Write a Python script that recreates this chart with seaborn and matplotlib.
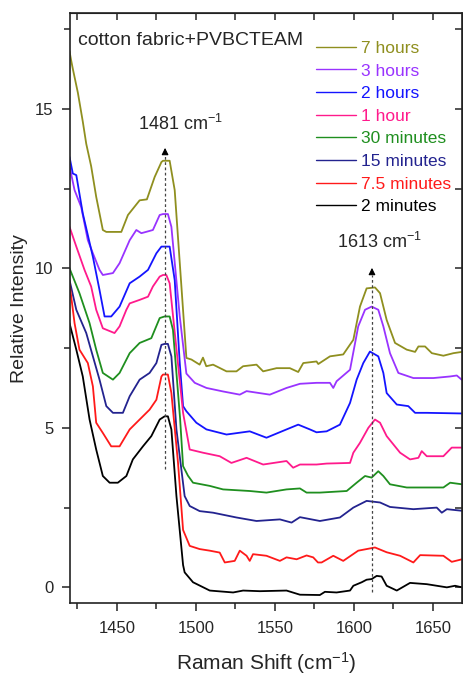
import numpy as np
import pandas as pd
import seaborn as sns
import matplotlib
matplotlib.use("Agg")
import matplotlib.pyplot as plt
from matplotlib.ticker import MultipleLocator

# Series labels, legend order (top to bottom)
labels = ["7 hours", "3 hours", "2 hours", "1 hour",
          "30 minutes", "15 minutes", "7.5 minutes", "2 minutes"]
colors = ["#8f8f1f", "#9933ff", "#1414ff", "#ff1a8c",
          "#1f8f1f", "#23238f", "#ff1a1a", "#000000"]

# Raman shift (cm-1) / relative intensity
x_7h = [1420.0, 1421.1, 1422.1, 1425.3, 1428.4, 1430.6, 1433.7, 1436.9, 1441.1, 1443.3,
        1452.8, 1457.0, 1464.4, 1469.0, 1473.9, 1478.2, 1479.2, 1483.4, 1486.6, 1494.0,
        1497.2, 1502.4, 1504.5, 1506.6, 1510.9, 1519.4, 1525.7, 1529.9, 1538.4, 1542.6,
        1551.1, 1559.5, 1564.8, 1568.0, 1576.4, 1577.5, 1584.9, 1593.3, 1599.7, 1603.9,
        1608.1, 1613.4, 1616.6, 1620.8, 1626.1, 1633.5, 1638.8, 1640.9, 1645.1, 1649.4,
        1656.7, 1663.1, 1668.5]
y_7h = [16.8, 16.5, 16.25, 15.5, 14.6, 13.9, 13.2, 12.24, 11.2, 11.14,
        11.14, 11.67, 12.13, 12.16, 12.86, 13.33, 13.37, 13.37, 12.45, 7.19,
        7.14, 6.98, 7.2, 6.93, 6.98, 6.77, 6.77, 6.93, 6.98, 6.77,
        6.87, 6.87, 6.75, 7.03, 7.08, 7.0, 7.24, 7.3, 7.76, 8.8,
        9.37, 9.4, 9.22, 8.38, 7.66, 7.45, 7.38, 7.55, 7.55, 7.34,
        7.26, 7.34, 7.38]

x_3h = [1420.0, 1423.2, 1427.4, 1431.6, 1434.8, 1439.0, 1441.1, 1447.5, 1451.7, 1458.1,
        1462.3, 1465.5, 1472.8, 1477.1, 1479.2, 1482.3, 1484.5, 1489.8, 1494.0, 1499.3,
        1506.7, 1517.2, 1527.8, 1532.1, 1546.8, 1557.4, 1565.9, 1576.4, 1584.9, 1587.0,
        1589.1, 1597.6, 1602.8, 1607.1, 1611.3, 1615.5, 1618.7, 1622.9, 1628.2, 1637.7,
        1650.4, 1661.0, 1665.2, 1668.5]
y_3h = [13.2, 12.45, 11.92, 10.88, 10.47, 9.95, 9.79, 9.85, 10.16, 10.88,
        11.2, 11.1, 11.2, 11.67, 11.7, 11.7, 11.3, 8.49, 6.7, 6.41,
        6.25, 6.14, 6.04, 6.15, 6.04, 6.25, 6.38, 6.41, 6.41, 6.25,
        6.46, 6.82, 8.18, 8.7, 8.8, 8.7, 8.18, 7.34, 6.72, 6.56,
        6.56, 6.61, 6.64, 6.5]

x_2h = [1420.0, 1422.1, 1424.3, 1428.4, 1434.8, 1439.0, 1442.2, 1446.4, 1451.7, 1458.1,
        1464.4, 1469.7, 1475.0, 1478.2, 1483.4, 1486.6, 1489.8, 1491.9, 1494.0, 1500.3,
        1506.7, 1519.4, 1534.1, 1544.7, 1557.4, 1564.8, 1572.2, 1576.4, 1582.8, 1591.2,
        1597.6, 1601.8, 1606.0, 1610.2, 1615.5, 1618.7, 1620.8, 1627.2, 1634.5, 1638.8,
        1646.2, 1668.5]
y_2h = [13.49, 12.97, 12.92, 11.72, 10.36, 9.32, 8.49, 8.49, 8.8, 9.53,
        9.74, 9.95, 10.47, 10.68, 10.68, 9.63, 7.03, 5.68, 5.52, 5.16,
        4.95, 4.79, 4.89, 4.69, 4.95, 5.1, 4.95, 4.86, 4.89, 5.1,
        5.78, 6.51, 7.03, 7.39, 7.24, 6.72, 6.09, 5.73, 5.68, 5.47,
        5.47, 5.45]

x_1h = [1420.0, 1424.3, 1429.5, 1433.7, 1436.9, 1441.1, 1448.5, 1451.7, 1456.0, 1458.1,
        1464.4, 1469.7, 1472.8, 1477.1, 1479.2, 1481.3, 1483.4, 1491.9, 1496.1, 1504.5,
        1515.1, 1522.5, 1532.1, 1542.6, 1557.4, 1561.6, 1565.9, 1576.4, 1582.8, 1597.6,
        1599.7, 1603.9, 1609.2, 1613.4, 1616.6, 1620.8, 1629.3, 1635.6, 1640.9, 1643.0,
        1646.2, 1656.7, 1662.0, 1668.5]
y_1h = [11.3, 10.68, 9.95, 9.43, 8.7, 8.12, 7.97, 8.18, 8.7, 8.9,
        9.01, 9.11, 9.43, 9.74, 9.79, 9.79, 9.53, 5.47, 4.32, 4.22,
        4.11, 3.9, 4.06, 3.85, 3.96, 3.75, 3.85, 3.85, 3.88, 3.9,
        4.22, 4.53, 5.0, 5.26, 5.16, 4.74, 4.22, 4.01, 4.06, 4.27,
        4.11, 4.11, 4.38, 4.38]

x_30m = [1420.0, 1426.3, 1432.7, 1436.9, 1441.1, 1447.5, 1451.7, 1458.1, 1464.4, 1471.8,
         1477.1, 1480.2, 1483.4, 1485.5, 1490.0, 1491.9, 1495.0, 1498.2, 1508.8, 1517.2,
         1534.1, 1544.7, 1557.4, 1565.9, 1570.1, 1578.5, 1595.5, 1601.8, 1607.1, 1611.3,
         1615.5, 1618.7, 1622.9, 1633.5, 1656.7, 1661.0, 1668.5]
y_30m = [10.0, 9.22, 8.28, 7.45, 6.72, 6.51, 6.72, 7.34, 7.66, 7.81,
         8.44, 8.49, 8.49, 8.07, 5.3, 3.8, 3.5, 3.28, 3.18, 3.07,
         3.02, 2.97, 3.07, 3.1, 2.97, 2.97, 3.02, 3.28, 3.49, 3.44,
         3.64, 3.49, 3.23, 3.13, 3.13, 3.28, 3.23]

x_15m = [1420.0, 1424.3, 1430.6, 1434.8, 1439.0, 1443.3, 1447.5, 1453.8, 1458.1, 1464.4,
         1470.7, 1475.0, 1478.2, 1480.2, 1482.3, 1484.5, 1487.7, 1492.9, 1496.1, 1502.4,
         1510.9, 1525.7, 1538.4, 1553.2, 1560.6, 1565.9, 1578.5, 1591.2, 1599.7, 1608.1,
         1616.6, 1622.9, 1637.7, 1652.5, 1655.7, 1658.9, 1668.5]
y_15m = [9.63, 8.7, 7.97, 7.24, 6.51, 5.68, 5.47, 5.47, 5.99, 6.51,
         6.72, 7.03, 7.6, 7.63, 7.63, 7.24, 4.95, 2.86, 2.55, 2.39,
         2.34, 2.19, 2.08, 2.13, 2.03, 2.2, 2.08, 2.19, 2.5, 2.71,
         2.66, 2.52, 2.45, 2.5, 2.34, 2.45, 2.4]

x_75m = [1420.0, 1423.2, 1426.3, 1431.6, 1434.8, 1436.9, 1441.1, 1446.4, 1451.7, 1458.1,
         1464.4, 1470.7, 1475.0, 1478.2, 1479.2, 1482.3, 1484.5, 1488.7, 1491.9, 1496.1,
         1502.4, 1508.8, 1515.1, 1518.3, 1524.6, 1527.8, 1532.1, 1534.1, 1536.2, 1544.7,
         1553.2, 1557.4, 1563.8, 1570.1, 1574.3, 1577.3, 1579.6, 1587.0, 1593.3, 1602.8,
         1613.4, 1620.8, 1629.3, 1637.7, 1642.0, 1656.7, 1662.0, 1668.5]
y_75m = [9.53, 8.28, 7.45, 7.03, 6.3, 5.16, 4.84, 4.42, 4.42, 4.95,
         5.26, 5.57, 5.88, 6.61, 6.67, 6.67, 6.09, 3.9, 1.8, 1.3,
         1.2, 1.15, 1.09, 0.78, 0.83, 1.15, 0.99, 0.83, 1.04, 0.99,
         0.83, 0.94, 0.88, 1.0, 0.94, 0.78, 0.78, 0.99, 0.83, 1.15,
         1.25, 1.1, 0.99, 0.78, 1.01, 0.99, 0.8, 0.88]

x_2m = [1420.0, 1424.3, 1428.4, 1432.7, 1436.9, 1441.1, 1445.4, 1450.6, 1456.0, 1460.1,
        1466.5, 1471.8, 1477.1, 1480.2, 1482.3, 1484.5, 1487.7, 1491.9, 1492.9, 1498.2,
        1508.8, 1523.6, 1529.9, 1540.5, 1557.4, 1565.9, 1578.5, 1581.7, 1589.1, 1597.6,
        1599.7, 1605.0, 1608.1, 1611.3, 1614.5, 1617.6, 1620.8, 1627.2, 1635.6, 1646.2,
        1658.9, 1664.1, 1668.5]
y_2m = [8.28, 7.45, 6.61, 5.26, 4.32, 3.49, 3.28, 3.28, 3.49, 4.01,
        4.42, 4.74, 5.26, 5.36, 5.36, 4.95, 2.86, 0.7, 0.47, 0.16,
        -0.1, -0.16, -0.1, -0.12, -0.1, -0.23, -0.24, -0.14, -0.16, -0.1,
        0.05, 0.16, 0.24, 0.26, 0.36, 0.34, 0.05, -0.1, 0.14, 0.1,
        0.0, 0.05, 0.0]

xs = [x_7h, x_3h, x_2h, x_1h, x_30m, x_15m, x_75m, x_2m]
ys = [y_7h, y_3h, y_2h, y_1h, y_30m, y_15m, y_75m, y_2m]

# Long-form table for seaborn
df = pd.concat([pd.DataFrame({"shift": x, "intensity": y, "sample": lab})
                for x, y, lab in zip(xs, ys, labels)], ignore_index=True)

# Style
sns.set_style("ticks")
plt.rcParams["font.family"] = ["Liberation Sans", "DejaVu Sans"]
plt.rcParams["mathtext.fontset"] = "custom"
plt.rcParams["mathtext.rm"] = "Liberation Sans"
plt.rcParams["mathtext.default"] = "regular"

fig = plt.figure(figsize=(4.64, 6.75), dpi=100)
ax = fig.add_axes([0.1498, 0.1062, 0.8459, 0.8745])

sns.lineplot(data=df, x="shift", y="intensity", hue="sample", hue_order=labels,
             palette=dict(zip(labels, colors)), estimator=None, sort=False,
             lw=1.3, ax=ax)

ax.set_xlim(1420, 1668.5)
ax.set_ylim(-0.5, 18)

# Ticks: out on bottom/left, in on top/right
ax.xaxis.set_major_locator(MultipleLocator(50))
ax.xaxis.set_minor_locator(MultipleLocator(25))
ax.yaxis.set_major_locator(MultipleLocator(5))
ax.yaxis.set_minor_locator(MultipleLocator(2.5))
ax.tick_params(which="major", direction="out", length=6, width=1.1,
               labelsize=12, color="#222222")
ax.tick_params(which="minor", direction="out", length=4, width=1.1, color="#222222")
ax.tick_params(axis="x", which="major", pad=7)
ax.tick_params(axis="y", which="major", pad=5.5)

secx = ax.secondary_xaxis("top")
secx.xaxis.set_major_locator(MultipleLocator(50))
secx.xaxis.set_minor_locator(MultipleLocator(25))
secx.tick_params(which="both", direction="in", length=5, width=1.1, labeltop=False)
secy = ax.secondary_yaxis("right")
secy.yaxis.set_major_locator(MultipleLocator(5))
secy.yaxis.set_minor_locator(MultipleLocator(2.5))
secy.tick_params(which="both", direction="in", length=5, width=1.1, labelright=False)

for sp in ax.spines.values():
    sp.set_linewidth(1.2)
    sp.set_color("#222222")

# Axis labels
ax.set_xlabel("Raman Shift (cm$^{-1}$)", fontsize=15)
ax.set_ylabel("Relative Intensity", fontsize=14)
ax.xaxis.set_label_coords(0.5, -0.079)
ax.yaxis.set_label_coords(-0.105, 0.5)

# Peak markers
for px, top, bot in [(1480.5, 13.86, 3.7), (1611.5, 10.1, -0.15)]:
    ax.plot([px, px], [bot, top - 0.3], ls=(0, (2.2, 2)), lw=0.9, color="#444444")
    ax.annotate("", xy=(px, top), xytext=(px, top - 0.35),
                arrowprops=dict(arrowstyle="-|>", color="black", lw=0.8,
                                mutation_scale=10))
ax.text(1490.4, 14.53, "1481 cm$^{-1}$", fontsize=13, ha="center", va="center")
ax.text(1616.0, 10.83, "1613 cm$^{-1}$", fontsize=13, ha="center", va="center")

ax.text(0.022, 0.954, "cotton fabric+PVBCTEAM", transform=ax.transAxes,
        fontsize=14, ha="left", va="center")

# Legend with coloured text
leg = ax.legend(loc="upper left", bbox_to_anchor=(0.628, 0.953), frameon=False,
                fontsize=12.5, handlelength=2.3, handletextpad=0.3,
                labelspacing=0.43, borderpad=0, borderaxespad=0)
for txt, line in zip(leg.get_texts(), leg.get_lines()):
    line.set_linewidth(1.0)
    txt.set_color(line.get_color())

fig.savefig("out.png", dpi=100)
